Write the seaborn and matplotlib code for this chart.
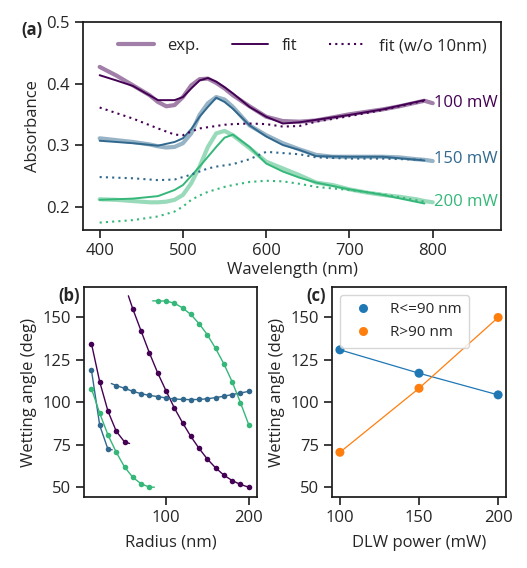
import numpy as np
import pandas as pd
import matplotlib
matplotlib.use("Agg")
import matplotlib.pyplot as plt
from matplotlib.lines import Line2D
import seaborn as sns

# ---------------- data: panel (a) ----------------
powers = ["100 mW", "150 mW", "200 mW"]

wl_exp = [400, 420, 440, 460, 470, 480, 490, 500, 510, 520, 530, 540, 550, 560,
          580, 600, 620, 640, 660, 680, 700, 720, 740, 760, 780, 790, 800]
exp_100 = [.427, .413, .397, .381, .370, .363, .365, .378, .397, .407, .408, .401, .392, .381,
           .363, .346, .339, .338, .340, .345, .350, .354, .358, .363, .369, .372, .368]
exp_150 = [.311, .308, .305, .301, .298, .296, .297, .303, .319, .349, .368, .378, .374, .362,
           .332, .316, .303, .293, .284, .281, .281, .281, .281, .280, .277, .276, .274]
exp_200 = [.212, .211, .209, .207, .207, .208, .211, .219, .238, .265, .297, .319, .323, .316,
           .295, .273, .262, .251, .239, .235, .228, .223, .219, .216, .212, .209, .207]

wl_fit = [400, 420, 440, 470, 490, 500, 510, 520, 530, 540, 550, 560, 580, 600,
          620, 640, 660, 700, 740, 790]
fit_100 = [.4135, .405, .396, .373, .373, .378, .392, .405, .409, .403, .394, .384, .362, .346,
           .335, .337, .341, .349, .358, .373]
fit_150 = [.307, .305, .303, .299, .305, .311, .326, .346, .362, .377, .370, .359, .332, .314,
           .300, .292, .282, .281, .281, .275]
fit_200 = [.211, .212, .213, .217, .227, .235, .250, .265, .281, .297, .312, .317, .297, .270,
           .257, .247, .239, .228, .219, .205]

nofit_100 = [.361, .352, .343, .327, .317, .316, .322, .327, .329, .331, .333, .334, .335, .334,
             .330, .331, .338, .347, .357, .372]
nofit_150 = [.248, .247, .246, .243, .244, .248, .252, .257, .262, .265, .267, .269, .277, .289,
             .287, .285, .280, .278, .278, .276]
nofit_200 = [.174, .176, .178, .184, .192, .200, .211, .218, .224, .228, .232, .235, .240, .242,
             .241, .237, .232, .227, .220, .208]

label_y = [0.369, 0.277, 0.208]

# ---------------- data: panel (b) ----------------
r_p1 = [10, 20, 30, 40, 50]
a_p1 = [134.6, 112.0, 94.6, 82.8, 76.5]
r_p2 = [60, 70, 80, 90, 100, 110, 120, 130, 140, 150, 160, 170, 180, 190, 200]
a_p2 = [155.0, 142.0, 129.1, 117.3, 106.8, 96.7, 87.9, 79.8, 72.7, 66.4, 61.2, 56.9, 53.7, 51.4, 49.8]
r_b1 = [10, 20, 30]
a_b1 = [118.9, 86.3, 72.1]
r_b2 = [40, 50, 60, 70, 80, 90, 100, 110, 120, 130, 140, 150, 160, 170, 180, 190, 200]
a_b2 = [109.8, 108.2, 106.4, 105.0, 104.0, 103.3, 102.5, 101.9, 101.6, 101.5, 101.6, 102.0,
        102.7, 103.5, 104.5, 105.4, 106.4]
r_g1 = [10, 20, 30, 40, 50, 60, 70, 80]
a_g1 = [108.0, 93.4, 80.6, 70.4, 61.7, 55.6, 51.8, 49.8]
r_g2 = [90, 100, 110, 120, 130, 140, 150, 160, 170, 180, 190, 200]
a_g2 = [159.8, 159.7, 158.5, 155.7, 151.8, 146.4, 139.8, 131.7, 122.6, 112.0, 99.7, 86.7]
# where the fitted curves visibly start / end beyond the points
curve_start = {"p1": None, "p2": (54.6, 162.8), "b1": None, "b2": (34.0, 111.0),
               "g1": None, "g2": (84.0, 159.8)}
curve_end = {"p1": (56.0, 75.6), "p2": None, "b1": (35.0, 71.9), "b2": None,
             "g1": (86.0, 49.8), "g2": None}

# ---------------- data: panel (c) ----------------
dlw_power = [100, 150, 200]
ang_small = [130.9, 117.1, 104.3]
ang_large = [70.4, 108.2, 150.0]
c_labels = ["R<=90 nm", "R>90 nm"]

# ---------------- style ----------------
sns.set_theme(style="ticks")
plt.rcParams["font.family"] = ["Open Sans", "DejaVu Sans"]
FS = 12
plt.rcParams.update({
    "font.size": FS, "axes.labelsize": FS, "xtick.labelsize": FS, "ytick.labelsize": FS,
    "legend.fontsize": FS, "axes.linewidth": 1.25, "xtick.major.width": 1.25,
    "ytick.major.width": 1.25, "axes.edgecolor": "0.1",
})

vir = plt.get_cmap("viridis")
colors = [vir(0.0), vir(1 / 3), vir(2 / 3)]
pal = dict(zip(powers, colors))

fig = plt.figure(figsize=(5.27, 5.68), dpi=100)
ax_a = fig.add_axes([0.1575, 0.5951, 0.7932, 0.3662])
ax_b = fig.add_axes([0.1594, 0.125, 0.3283, 0.3697])
ax_c = fig.add_axes([0.630, 0.125, 0.3302, 0.3697])

# ---------------- panel (a) ----------------
df_exp = pd.DataFrame({"wl": wl_exp * 3, "A": exp_100 + exp_150 + exp_200,
                       "power": sum([[p] * len(wl_exp) for p in powers], [])})
df_fit = pd.DataFrame({"wl": wl_fit * 3, "A": fit_100 + fit_150 + fit_200,
                       "power": sum([[p] * len(wl_fit) for p in powers], [])})
df_nofit = pd.DataFrame({"wl": wl_fit * 3, "A": nofit_100 + nofit_150 + nofit_200,
                         "power": sum([[p] * len(wl_fit) for p in powers], [])})

DOT = (1, 2)
sns.lineplot(data=df_exp, x="wl", y="A", hue="power", palette=pal, lw=3.0, alpha=0.5,
             legend=False, ax=ax_a)
sns.lineplot(data=df_fit, x="wl", y="A", hue="power", palette=pal, lw=1.4,
             legend=False, ax=ax_a)
sns.lineplot(data=df_nofit, x="wl", y="A", hue="power", palette=pal, lw=1.5,
             legend=False, ax=ax_a)
for ln in ax_a.get_lines()[6:9]:
    ln.set_dashes(DOT)
for p, y in zip(powers, label_y):
    ax_a.text(801, y, p, color=pal[p], va="center", ha="left", fontsize=FS)

ax_a.set_xlim(380, 882)
ax_a.set_ylim(0.162, 0.5)
ax_a.set_xticks([400, 500, 600, 700, 800])
ax_a.set_yticks([0.2, 0.3, 0.4, 0.5])
ax_a.set_xlabel("Wavelength (nm)", labelpad=2)
ax_a.set_ylabel("Absorbance")
handles = [Line2D([], [], color=colors[0], lw=3.0, alpha=0.5),
           Line2D([], [], color=colors[0], lw=1.4),
           Line2D([], [], color=colors[0], lw=1.5, dashes=DOT)]
ax_a.legend(handles, ["exp.", "fit", "fit (w/o 10nm)"], ncol=3, frameon=False,
            loc="upper center", bbox_to_anchor=(0.524, 0.995), handlelength=2.2,
            columnspacing=1.9, handletextpad=0.8)

# ---------------- panel (b) ----------------
series_b = [("p1", r_p1, a_p1, colors[0]), ("p2", r_p2, a_p2, colors[0]),
            ("b1", r_b1, a_b1, colors[1]), ("b2", r_b2, a_b2, colors[1]),
            ("g1", r_g1, a_g1, colors[2]), ("g2", r_g2, a_g2, colors[2])]
for key, r, a, c in series_b:
    rr, aa = list(r), list(a)
    if curve_start[key] is not None:
        rr = [curve_start[key][0]] + rr
        aa = [curve_start[key][1]] + aa
    if curve_end[key] is not None:
        rr = rr + [curve_end[key][0]]
        aa = aa + [curve_end[key][1]]
    sns.lineplot(x=rr, y=aa, color=c, lw=1.0, ax=ax_b, sort=False)
    sns.scatterplot(x=r, y=a, color=c, s=16, linewidth=0, ax=ax_b, zorder=3)
ax_b.set_xlim(1, 210)
ax_b.set_ylim(44, 168)
ax_b.set_xticks([100, 200])
ax_b.set_yticks([50, 75, 100, 125, 150])
ax_b.set_xlabel("Radius (nm)", labelpad=6)
ax_b.set_ylabel("Wetting angle (deg)")

# ---------------- panel (c) ----------------
df_c = pd.DataFrame({"power": dlw_power * 2, "angle": ang_small + ang_large,
                     "group": [c_labels[0]] * 3 + [c_labels[1]] * 3})
pal_c = {c_labels[0]: "tab:blue", c_labels[1]: "tab:orange"}
sns.lineplot(data=df_c, x="power", y="angle", hue="group", palette=pal_c, lw=0.9,
             legend=False, ax=ax_c)
sns.scatterplot(data=df_c, x="power", y="angle", hue="group", palette=pal_c, s=42,
                linewidth=0, ax=ax_c, zorder=3)
ax_c.set_xlim(95, 205)
ax_c.set_ylim(44, 168)
ax_c.set_xticks([100, 150, 200])
ax_c.set_yticks([50, 75, 100, 125, 150])
ax_c.set_xlabel("DLW power (mW)", labelpad=6)
ax_c.set_ylabel("Wetting angle (deg)")
leg = ax_c.legend(loc="upper left", title=None, handletextpad=0.8, borderpad=0.5,
                  fontsize=11)

# panel labels
fig.text(0.040, 0.947, "(a)", fontweight="bold", fontsize=12, va="center", ha="left")
fig.text(0.110, 0.479, "(b)", fontweight="bold", fontsize=12, va="center", ha="left")
fig.text(0.581, 0.479, "(c)", fontweight="bold", fontsize=12, va="center", ha="left")

fig.savefig("out.png", dpi=100)
